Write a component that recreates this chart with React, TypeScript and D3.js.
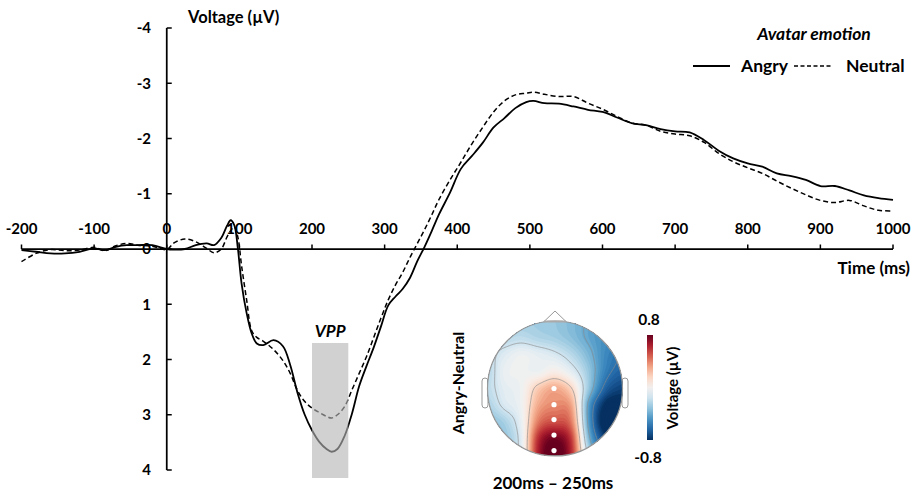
import React from "react";
import * as d3 from "d3";

// ---------- data ----------
const TIMES = [-200,-180,-160,-140,-120,-100,-85,-70,-55,-40,-20,0,10,25,40,55,65,75,83,88,93,98,103,110,117,124,133,147,160,170,180,190,200,210,220,227,235,245,255,265,275,285,295,305,315,325,335,345,355,365,375,390,405,420,435,450,465,480,495,505,520,540,560,580,600,620,640,660,680,700,720,740,760,780,800,820,840,860,880,900,920,940,960,980,1000];

const ANGRY = [0.02,0.05,0.08,0.08,0.05,-0.01,0.02,-0.04,-0.07,-0.07,-0.07,0.0,0.01,0.0,-0.07,-0.1,-0.07,-0.2,-0.42,-0.52,-0.43,0.0,0.62,1.16,1.53,1.71,1.74,1.65,1.76,2.1,2.6,3.0,3.28,3.49,3.62,3.67,3.62,3.38,2.98,2.48,2.12,1.78,1.4,1.02,0.86,0.72,0.52,0.22,-0.04,-0.33,-0.63,-1.02,-1.45,-1.68,-1.92,-2.2,-2.37,-2.55,-2.66,-2.68,-2.64,-2.63,-2.58,-2.52,-2.48,-2.38,-2.28,-2.24,-2.17,-2.13,-2.11,-1.97,-1.78,-1.64,-1.55,-1.49,-1.37,-1.32,-1.25,-1.14,-1.14,-1.06,-0.97,-0.92,-0.89];

const NEUTRAL = [0.23,0.08,0.01,0.03,0.02,-0.03,0.03,-0.06,-0.1,-0.07,-0.05,0.01,-0.11,-0.18,-0.13,-0.01,0.07,0.0,-0.22,-0.33,-0.4,-0.21,0.3,0.92,1.48,1.6,1.67,1.82,2.02,2.25,2.56,2.76,2.88,2.96,3.03,3.06,3.0,2.85,2.55,2.25,1.95,1.6,1.25,0.92,0.65,0.42,0.15,-0.1,-0.35,-0.62,-0.9,-1.25,-1.57,-1.9,-2.2,-2.48,-2.68,-2.79,-2.82,-2.84,-2.8,-2.76,-2.76,-2.64,-2.53,-2.4,-2.28,-2.24,-2.13,-2.08,-2.05,-1.93,-1.73,-1.58,-1.47,-1.37,-1.23,-1.1,-0.98,-0.88,-0.84,-0.88,-0.78,-0.7,-0.69];

const X_TICKS = [-200,-100,0,100,200,300,400,500,600,700,800,900,1000];
const Y_TICKS = [-4,-3,-2,-1,0,1,2,3,4];
const VPP_WINDOW = [200, 250];

const SERIES_NAMES = ["Angry", "Neutral"];

// topography grid (rows: front -> back, cols: left -> right), values in µV
const TOPO_GRID = [
  [-0.25,-0.25,-0.27,-0.28,-0.3,-0.35,-0.42,-0.5,-0.55],
  [-0.22,-0.22,-0.2,-0.24,-0.27,-0.33,-0.42,-0.5,-0.55],
  [-0.2,-0.1,-0.03,-0.07,-0.12,-0.22,-0.36,-0.52,-0.6],
  [-0.22,-0.05,-0.02,-0.03,0.04,-0.08,-0.3,-0.55,-0.65],
  [-0.2,-0.08,-0.02,0.2,0.3,0.15,-0.3,-0.65,-0.75],
  [-0.25,-0.12,-0.02,0.3,0.38,0.3,-0.45,-0.82,-0.85],
  [-0.32,-0.26,-0.05,0.42,0.52,0.4,-0.45,-0.88,-0.88],
  [-0.32,-0.3,-0.08,0.6,0.78,0.55,-0.35,-0.75,-0.8],
  [-0.32,-0.25,-0.08,0.65,0.88,0.6,-0.2,-0.6,-0.65],
];
const ELECTRODES = [[0, 0.0],[0, 0.24],[0, 0.46],[0, 0.69],[0, 0.92]];
const COLOR_RANGE = [-0.8, 0.8];
const CONTOUR_LEVELS = [-0.6, -0.4, -0.15, 0.15];

// ---------- helpers ----------
function cr(p0: number, p1: number, p2: number, p3: number, t: number) {
  return 0.5 * (2 * p1 + (-p0 + p2) * t + (2 * p0 - 5 * p1 + 4 * p2 - p3) * t * t + (-p0 + 3 * p1 - 3 * p2 + p3) * t * t * t);
}
function sampleGrid(g: number[][], gx: number, gy: number) {
  const rows = g.length, cols = g[0].length;
  const get = (r: number, c: number) => g[Math.max(0, Math.min(rows - 1, r))][Math.max(0, Math.min(cols - 1, c))];
  const ix = Math.floor(gx), iy = Math.floor(gy);
  const tx = gx - ix, ty = gy - iy;
  const rv: number[] = [];
  for (let k = -1; k <= 2; k++) {
    rv.push(cr(get(iy + k, ix - 1), get(iy + k, ix), get(iy + k, ix + 1), get(iy + k, ix + 2), tx));
  }
  return cr(rv[0], rv[1], rv[2], rv[3], ty);
}

const W = 916, H = 494;

export default function App() {
  const x = d3.scaleLinear().domain([-200, 1000]).range([21.5, 893]);
  const y = d3.scaleLinear().domain([-4, 4]).range([28, 470]);
  const x0 = x(0), y0 = y(0);

  const line = d3.line<number>()
    .x((_, i) => x(TIMES[i]))
    .y((d) => y(d))
    .curve(d3.curveCatmullRom.alpha(0.5));

  // topomap
  const cx = 555, cy = 388.5, R = 67.5;
  const n = 96;
  const vals = new Array(n * n);
  const gs = TOPO_GRID.length - 1;
  for (let j = 0; j < n; j++) {
    for (let i = 0; i < n; i++) {
      const gx = ((i + 0.5) / n) * gs;
      const gy = ((j + 0.5) / n) * gs;
      vals[j * n + i] = sampleGrid(TOPO_GRID, gx, gy);
    }
  }
  const color = (v: number) => d3.interpolateRdBu((COLOR_RANGE[1] - v) / (COLOR_RANGE[1] - COLOR_RANGE[0]));
  const levels = d3.range(-1.2, 1.2, 0.03);
  const fills = d3.contours().size([n, n]).smooth(true).thresholds(levels)(vals);
  const lines = d3.contours().size([n, n]).smooth(true).thresholds(CONTOUR_LEVELS)(vals);
  const proj = d3.geoTransform({
    point: function (px: number, py: number) {
      (this as any).stream.point(cx + ((px / n) * 2 - 1) * R, cy + ((py / n) * 2 - 1) * R);
    },
  });
  const gpath = d3.geoPath(proj as any);

  const cbX = 647, cbTop = 335, cbBot = 440, cbW = 6;
  const cbStops = d3.range(0, 1.0001, 0.1);

  const font = "Lato, 'Open Sans', sans-serif";

  return (
    <svg width={W} height={H} style={{ position: "absolute", left: 0, top: 0, background: "#fff" }} fontFamily={font} fontWeight="bold">
      <defs>
        <clipPath id="head">
          <circle cx={cx} cy={cy} r={R} />
        </clipPath>
        <linearGradient id="cbar" x1="0" y1="0" x2="0" y2="1">
          {cbStops.map((s) => (
            <stop key={s} offset={s} stopColor={d3.interpolateRdBu(s)} />
          ))}
        </linearGradient>
      </defs>

      {/* axes */}
      <line x1={x(-200)} x2={x(1000)} y1={y0} y2={y0} stroke="#000" strokeWidth={1.75} />
      {X_TICKS.map((t) => (
        <line key={"xt" + t} x1={x(t)} x2={x(t)} y1={y0} y2={y0 - 4.5} stroke="#000" strokeWidth={1.5} />
      ))}
      <line x1={x0} x2={x0} y1={y(-4)} y2={y(4)} stroke="#000" strokeWidth={1.75} />
      {Y_TICKS.map((v) => (
        <line key={"yt" + v} x1={x0} x2={x0 + 5} y1={y(v)} y2={y(v)} stroke="#000" strokeWidth={1.5} />
      ))}
      {X_TICKS.map((t) => (
        <text key={"xl" + t} x={x(t)} y={234} textAnchor="middle" fontSize={15}>{t}</text>
      ))}
      {Y_TICKS.map((v) => (
        <text key={"yl" + v} x={151} y={y(v)} dy="0.36em" textAnchor="end" fontSize={15}>{v}</text>
      ))}
      <text x={188} y={23} fontSize={16.5}>Voltage (µV)</text>
      <text x={910} y={274} textAnchor="end" fontSize={17}>Time (ms)</text>

      {/* series */}
      <path d={line(NEUTRAL) || ""} fill="none" stroke="#000" strokeWidth={1.5} strokeDasharray="5,3" />
      <path d={line(ANGRY) || ""} fill="none" stroke="#000" strokeWidth={1.8} />

      {/* VPP window */}
      <rect x={x(VPP_WINDOW[0])} y={343} width={x(VPP_WINDOW[1]) - x(VPP_WINDOW[0])} height={135} fill="#b4b4b4" opacity={0.62} />
      <text x={(x(VPP_WINDOW[0]) + x(VPP_WINDOW[1])) / 2} y={337} textAnchor="middle" fontSize={17} fontStyle="italic">VPP</text>

      {/* legend */}
      <text x={814} y={40} textAnchor="middle" fontSize={17.5} fontStyle="italic">Avatar emotion</text>
      <line x1={693} x2={730} y1={66} y2={66} stroke="#000" strokeWidth={1.8} />
      <text x={741} y={72} fontSize={17.5}>{SERIES_NAMES[0]}</text>
      <line x1={794} x2={832} y1={66} y2={66} stroke="#000" strokeWidth={1.5} strokeDasharray="4,2.5" />
      <text x={846} y={72} fontSize={17.5}>{SERIES_NAMES[1]}</text>

      {/* topomap */}
      <path d={`M${cx - 12},${cy - R + 1.5} L${cx},${cy - R - 10} L${cx + 12},${cy - R + 1.5}`} fill="#fff" stroke="#999" strokeWidth={1} />
      <rect x={cx - R - 5.5} y={378} width={6} height={30} rx={3} fill="#fff" stroke="#999" strokeWidth={1} />
      <rect x={cx + R - 0.5} y={378} width={6} height={30} rx={3} fill="#fff" stroke="#999" strokeWidth={1} />
      <g clipPath="url(#head)">
        {fills.map((c, i) => (
          <path key={"f" + i} d={gpath(c as any) || ""} fill={color(c.value + 0.015)} stroke="none" />
        ))}
        {lines.map((c, i) => (
          <path key={"c" + i} d={gpath(c as any) || ""} fill="none" stroke="#8a8a8a" strokeWidth={0.8} strokeOpacity={0.8} />
        ))}
      </g>
      <circle cx={cx} cy={cy} r={R} fill="none" stroke="#999" strokeWidth={1.2} />
      <line x1={cx - 11} x2={cx + 11} y1={cy - R + 0.5} y2={cy - R + 0.5} stroke="#aaa" strokeWidth={2} />
      {ELECTRODES.map((e, i) => (
        <circle key={"e" + i} cx={cx + e[0] * R - 1} cy={cy + e[1] * R} r={2.6} fill="#fff" />
      ))}
      <text transform={`translate(464,383) rotate(-90)`} textAnchor="middle" fontSize={16}>Angry-Neutral</text>
      <text x={553} y={489} textAnchor="middle" fontSize={17}>200ms – 250ms</text>

      {/* colorbar */}
      <rect x={cbX} y={cbTop} width={cbW} height={cbBot - cbTop} fill="url(#cbar)" />
      <text x={649} y={325} textAnchor="middle" fontSize={15.5}>{COLOR_RANGE[1]}</text>
      <text x={648} y={463} textAnchor="middle" fontSize={15.5}>{COLOR_RANGE[0]}</text>
      <text transform={`translate(678,388) rotate(-90)`} textAnchor="middle" fontSize={15}>Voltage (µV)</text>
    </svg>
  );
}
